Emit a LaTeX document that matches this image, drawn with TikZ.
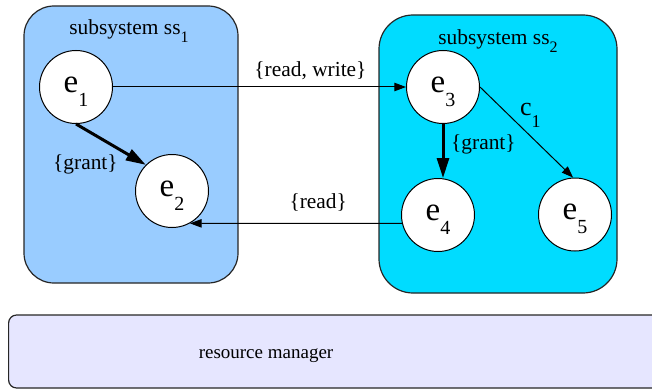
\documentclass[tikz,border=0pt]{standalone}
\usepackage{fontspec}
\setmainfont{Liberation Serif}
\newfontfamily\diagfont{Liberation Serif}
\usetikzlibrary{arrows.meta, positioning}
\definecolor{subsyslight}{RGB}{153,204,255}
\definecolor{subsyscyan}{RGB}{0,220,255}
\definecolor{managerlilac}{RGB}{230,230,255}
% lowered, smaller index: drop, size, text
\newcommand{\lowidx}[3]{\raisebox{-#1}{\fontsize{#2}{#2}\selectfont #3}}

\begin{document}
\begin{tikzpicture}[
    x=0.5pt, y=-0.5pt,
    font=\diagfont,
    subsys/.style={rectangle, draw=black!85, line width=0.6pt},
    entity/.style={circle, draw, fill=white, line width=0.5pt, minimum size=36.5pt, inner sep=0pt,
        text height=12pt, text depth=7pt, font=\diagfont\fontsize{16.5}{18}\selectfont},
    lbl/.style={font=\diagfont\fontsize{10.7}{12}\selectfont},
    flow/.style={-{Triangle[length=5.8pt, width=4.2pt]}, line width=0.5pt},
    grant/.style={-{Triangle[length=10pt, width=6pt]}, line width=1.5pt}
]
    \useasboundingbox (0,0) rectangle (652,390);
    \clip (0,0) rectangle (652,390);

    % Subsystems
    \node[subsys, fill=subsyslight, minimum width=107pt, minimum height=138.5pt, rounded corners=15pt] (ss1) at (131,144.5) {};
    \node[lbl, anchor=base] (ss1name) at (129,35) {subsystem ss\lowidx{4pt}{8}{1}};
    \node[subsys, fill=subsyscyan, minimum width=119pt, minimum height=139pt, rounded corners=17pt] (ss2) at (498,154) {};
    \node[lbl, anchor=base] (ss2name) at (498,44.5) {subsystem ss\lowidx{4pt}{8}{2}};

    % Resource manager
    \node[subsys, fill=managerlilac, anchor=west, minimum width=400pt, minimum height=36.5pt, rounded corners=4pt] (rm) at (8,351.5) {};
    \node[anchor=base, font=\diagfont\fontsize{9.5}{11}\selectfont] (rmname) at (266,358) {resource manager};

    % Entities
    \node[entity] (e1) at (76,87) {e\lowidx{7pt}{10}{1}};
    \node[entity] (e2) at (172,191) {e\lowidx{7pt}{10}{2}};
    \node[entity] (e3) at (443,87) {e\lowidx{7pt}{10}{3}};
    \node[entity] (e4) at (438,215) {e\lowidx{7pt}{10}{4}};
    \node[entity] (e5) at (575,214.5) {e\lowidx{7pt}{10}{5}};

    % Rights inside the subsystems
    \draw[grant] (e1.south) -- (e2.135) node[lbl, pos=1, left=10pt] {\{grant\}};
    \draw[grant] (e3.south) -- (e3.south |- e4.north) node[lbl, pos=0.37, right] {\{grant\}};
    \draw[flow] (e3.east) -- (e5.93)
        node[pos=0.31, right=2pt, font=\diagfont\fontsize{13}{14}\selectfont] {c\lowidx{6pt}{9}{1}};

    % Accesses across the subsystems
    \draw[flow] (e1.east) -- (e3.west) node[lbl, pos=0.674, above] {\{read, write\}};
    \draw[flow] (e4.193) -- (e2.-61) node[lbl, pos=0.395, above, yshift=2.5pt] {\{read\}};
\end{tikzpicture}
\end{document}
